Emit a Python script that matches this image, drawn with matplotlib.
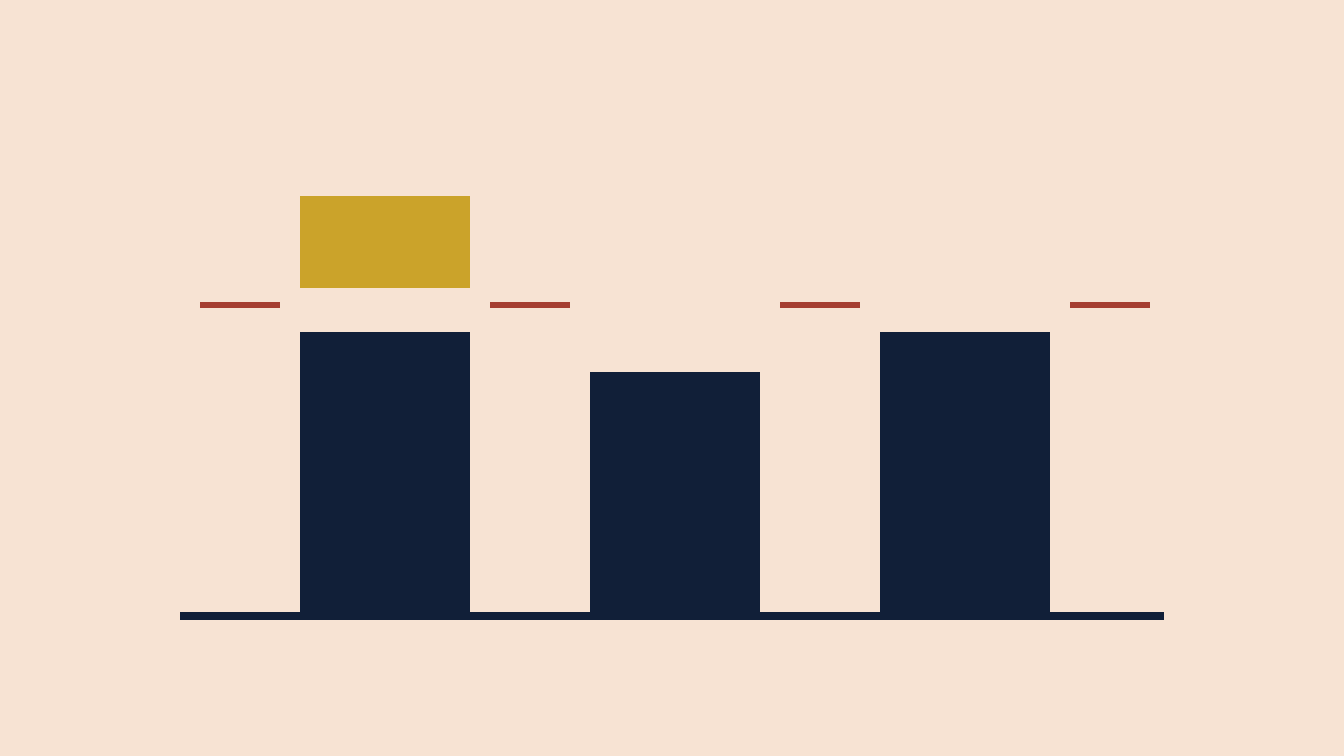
import matplotlib
matplotlib.use("Agg")
import matplotlib.pyplot as plt

# Data
bar_positions = [0, 1, 2]
bar_values = [70, 60, 70]
highlight_positions = [0]
highlight_bottom = [81]
highlight_height = [23]
target_positions = [-0.5, 0.5, 1.5, 2.5]
target_values = [76, 76, 76, 76]
target_thickness = 1.5
baseline_range = (-0.707, 2.686)

BG = "#F7E3D3"
NAVY = "#111F38"
GOLD = "#CBA32A"
RED = "#A63F31"

fig = plt.figure(figsize=(13.44, 7.56), dpi=100, facecolor=BG)
ax = fig.add_axes([0, 0, 1, 1])
ax.set_facecolor(BG)

bw = 170 / 290
dw = 80 / 290

ax.bar(bar_positions, bar_values, width=bw, color=NAVY, linewidth=0)
ax.bar(highlight_positions, highlight_height, bottom=highlight_bottom,
       width=bw, color=GOLD, linewidth=0)
ax.bar(target_positions, [target_thickness] * len(target_positions),
       bottom=target_values, width=dw, color=RED, linewidth=0)
# baseline
ax.bar([(baseline_range[0] + baseline_range[1]) / 2], [2], bottom=[-2],
       width=baseline_range[1] - baseline_range[0], color=NAVY, linewidth=0)

ax.set_xlim((0 - 385) / 290, (1344 - 385) / 290)
ax.set_ylim(-(756 - 612) / 4, 612 / 4)
ax.axis("off")

fig.savefig("out.png", dpi=100, facecolor=BG)
